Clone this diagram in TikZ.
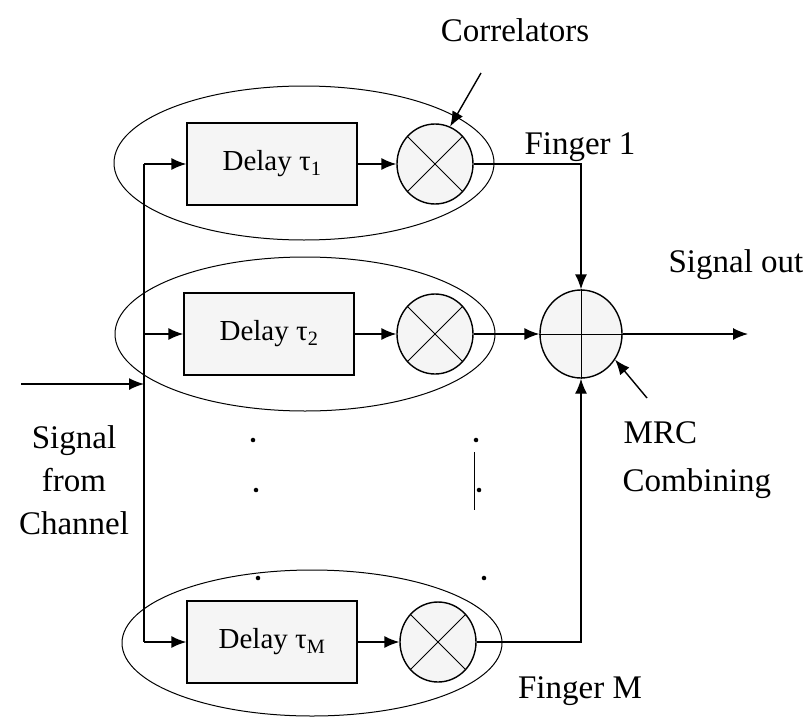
\documentclass[tikz,border=0pt]{standalone}
\usepackage{fontspec}
\setmainfont{Liberation Serif}
\usetikzlibrary{arrows.meta}
\usetikzlibrary{shapes.geometric}

\begin{document}
\begin{tikzpicture}[x=1pt,y=-1pt,line width=1.4pt,>={Latex[length=15pt,width=12pt]},
		lbl/.style={font=\fontsize{33}{43}\selectfont},
		finger/.style={draw,ellipse,line width=1pt,minimum width=380pt,minimum height=154pt},
		delaybox/.style={draw,fill=gray!8,minimum width=170pt,minimum height=82pt,font=\fontsize{29}{34}\selectfont},
		mult/.style={draw,ellipse,fill=gray!8,inner sep=0pt,minimum width=76pt,minimum height=80pt},
		dot/.style={circle,fill,inner sep=1.6pt}]
		\useasboundingbox (0,0) rectangle (810,717);
		\node[finger] (f1) at (304,163) {};
		\node[finger] (f2) at (305,334) {};
		\node[finger,minimum height=146pt] (fM) at (312,643) {};
		\node[delaybox] (b1) at (272,164) {Delay τ\textsubscript{1}};
		\node[delaybox] (b2) at (269,334) {Delay τ\textsubscript{2}};
		\node[delaybox] (bM) at (272,642) {Delay τ\textsubscript{M}};
		\node[mult] (m1) at (435,164) {};
		\node[mult] (m2) at (435,334) {};
		\node[mult] (mM) at (438,642) {};
		\node[mult,minimum width=82pt,minimum height=88pt] (add) at (581,334) {};
		\draw[line width=1pt] (m1.45) -- (m1.225) (m1.135) -- (m1.315);
		\draw[line width=1pt] (m2.45) -- (m2.225) (m2.135) -- (m2.315);
		\draw[line width=1pt] (mM.45) -- (mM.225) (mM.135) -- (mM.315);
		\draw[line width=1pt] (add.north) -- (add.south) (add.west) -- (add.east);
		\coordinate (bt) at (144,164);
		\coordinate (bb) at (144,642);
		\coordinate (in) at (21,384);
		\coordinate (out) at (748,334);
		\draw (bt) -- (bb);
		\draw[->] (bt) -- (b1);
		\draw[->] (b2 -| bt) -- (b2);
		\draw[->] (bb) -- (bM);
		\draw[->] (in) -- (in -| bt);
		\draw[->] (b1) -- (m1);
		\draw[->] (b2) -- (m2);
		\draw[->] (bM) -- (mM);
		\draw[->] (m1) -| (add);
		\draw[->] (m2) -- (add);
		\draw[->] (mM) -| (add);
		\draw[->] (add) -- (out);
		\node[lbl] (corr) at (515,30) {Correlators};
		\coordinate (ct) at (481,73);
		\draw[->] (ct) -- (m1.68);
		\node[lbl] (fing1) at (580,147) {Finger 1};
		\node[lbl] (sout) at (736,265) {Signal out};
		\node[lbl,anchor=west,inner sep=0pt] (mrc) at (623,433) {MRC};
		\node[lbl,anchor=west,inner sep=0pt] (comb) at (622,484) {Combining};
		\coordinate (mt) at (647,398);
		\draw[->] (mt) -- (add.-37);
		\node[lbl,align=center] (sig) at (74,480) {Signal\\from\\Channel};
		\node[lbl] (fingM) at (580,691) {Finger M};
		\node[dot] (d1) at (253,440) {};
		\node[dot] (d2) at (256,490) {};
		\node[dot] (d3) at (258,578) {};
		\node[dot] (d4) at (476,440) {};
		\node[dot] (d5) at (479,490) {};
		\node[dot] (d6) at (484,578) {};
		\draw[line width=1pt] (474,452) -- (474,510);
\end{tikzpicture}
\end{document}
